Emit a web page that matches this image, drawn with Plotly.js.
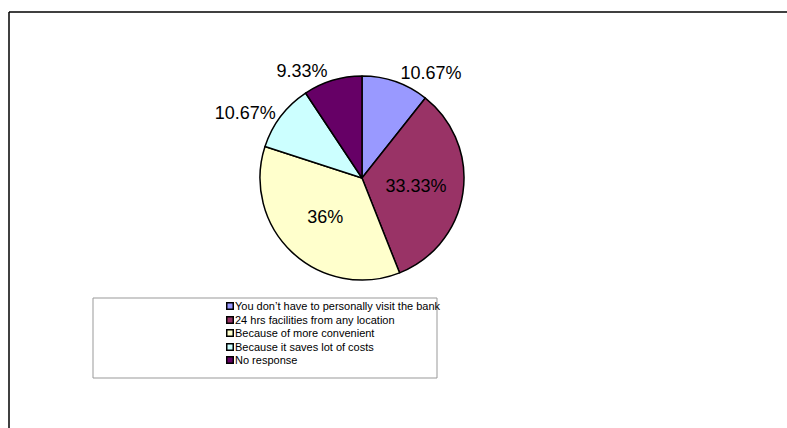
<!DOCTYPE html>
<html>
<head>
<meta charset="utf-8">
<script src="https://cdn.plot.ly/plotly-3.0.1.min.js"></script>
<style>html,body{margin:0;padding:0;background:#fff;}#chart{width:787px;height:428px;}</style>
</head>
<body>
<div id="chart"></div>
<script>
const categories = [
  "You don\u2019t have to personally visit the bank",
  "24 hrs facilities from any location",
  "Because of more convenient",
  "Because it saves lot of costs",
  "No response"
];
const percentages = [10.67, 33.33, 36, 10.67, 9.33];
const sliceColors = ["#9999FF", "#993366", "#FFFFCC", "#CCFFFF", "#660066"];
const labelPositions = ["outside", "inside", "inside", "outside", "outside"];

const W = 787, H = 428;
const cx = 362, cy = 178, r = 102;
const FONT = "Liberation Sans, Arial, sans-serif";

const trace = {
  type: "pie",
  labels: categories,
  values: percentages,
  sort: false,
  direction: "clockwise",
  rotation: 0,
  marker: { colors: sliceColors, line: { color: "#000000", width: 1.5 } },
  texttemplate: "%{value}%",
  textposition: labelPositions,
  insidetextorientation: "horizontal",
  textfont: { family: FONT, size: 18, color: "#000000" },
  outsidetextfont: { family: FONT, size: 18, color: "#000000" },
  hoverinfo: "none",
  showlegend: false,
  domain: { x: [(cx - r) / W, (cx + r) / W], y: [(H - cy - r) / H, (H - cy + r) / H] }
};

// Legend (box, swatches, labels) laid out as annotations to match the reference's compact legend
const legTop = 306, legStep = 13.5, swatchX = 229.5, textX = 234;
const annotations = [];
categories.forEach((name, i) => {
  const yp = 1 - (legTop + i * legStep) / H;
  annotations.push({
    xref: "paper", yref: "paper", x: swatchX / W, y: yp,
    xanchor: "center", yanchor: "middle", showarrow: false,
    text: " ", font: { size: 1 }, width: 5, height: 5,
    bgcolor: sliceColors[i], bordercolor: "#000000", borderwidth: 1.5, borderpad: 0
  });
  annotations.push({
    xref: "paper", yref: "paper", x: textX / W, y: yp,
    xanchor: "left", yanchor: "middle", showarrow: false, borderpad: 0,
    text: name, font: { family: FONT, size: 11, color: "#000000" }
  });
});

const layout = {
  width: W, height: H,
  margin: { l: 0, r: 0, t: 0, b: 0 },
  paper_bgcolor: "#ffffff",
  font: { family: FONT, size: 12, color: "#000000" },
  showlegend: false,
  annotations: annotations,
  shapes: [
    { type: "line", xref: "paper", yref: "paper", x0: 9 / W, x1: 1, y0: 1 - 12 / H, y1: 1 - 12 / H, line: { color: "#000000", width: 1.5 } },
    { type: "line", xref: "paper", yref: "paper", x0: 9 / W, x1: 9 / W, y0: 0, y1: 1 - 12 / H, line: { color: "#000000", width: 1.5 } },
    { type: "rect", xref: "paper", yref: "paper", x0: 93 / W, x1: 437 / W, y0: 1 - 378 / H, y1: 1 - 298 / H, line: { color: "#999999", width: 1 }, fillcolor: "rgba(0,0,0,0)" }
  ]
};

Plotly.newPlot("chart", [trace], layout, { displayModeBar: false, staticPlot: true });
</script>
</body>
</html>
